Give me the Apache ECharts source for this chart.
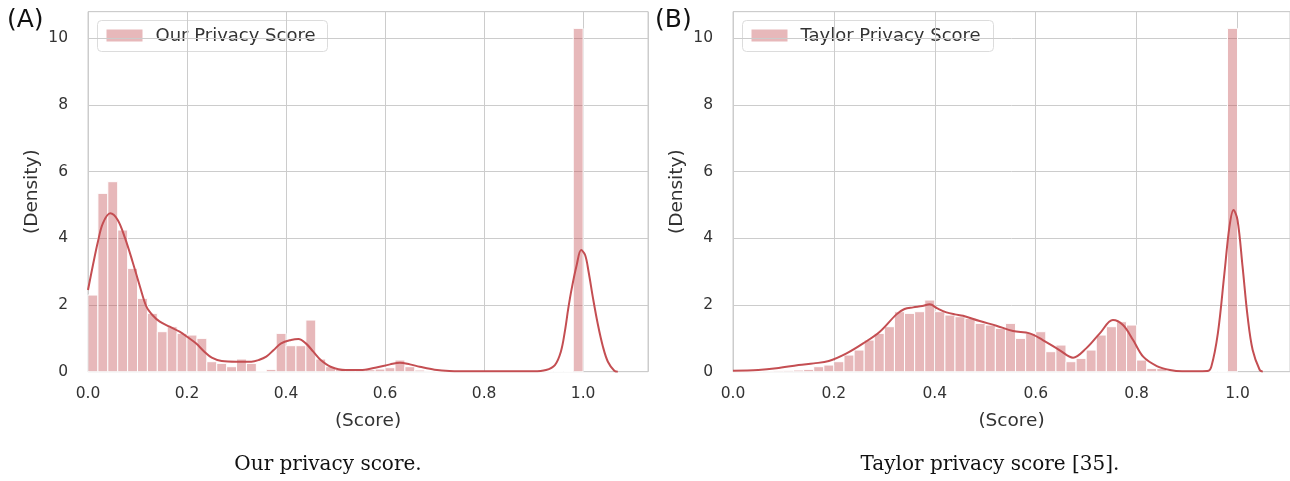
<!DOCTYPE html>
<html>
<head>
<meta charset="utf-8">
<script src="https://cdn.jsdelivr.net/npm/echarts@6/dist/echarts.min.js"></script>
<style>
html,body{margin:0;padding:0;background:#fff;}
#chart{width:1290px;height:481px;}
</style>
</head>
<body>
<div id="chart"></div>
<script>
// ---- data ----
const binWidth = 0.02;
const xTicks = [0.0, 0.2, 0.4, 0.6, 0.8, 1.0];
const yTicks = [0, 2, 4, 6, 8, 10];

// Panel A: "Our Privacy Score" histogram densities (50 bins from 0 to 1)
const ourHist = [
  2.3, 5.35, 5.7, 4.25, 3.1, 2.2, 1.75, 1.2, 1.35, 1.15,
  1.1, 1.0, 0.3, 0.25, 0.15, 0.38, 0.25, 0.02, 0.07, 1.15,
  0.78, 0.78, 1.55, 0.38, 0.15, 0.07, 0.05, 0.04, 0.06, 0.08,
  0.12, 0.35, 0.15, 0.05, 0.02, 0, 0, 0, 0, 0,
  0, 0, 0, 0, 0, 0, 0, 0, 0, 10.3
];
// Panel A KDE curve points [score, density]
const ourKde = [
  [0,2.45],[0.01,3.2],[0.02,3.9],[0.03,4.45],[0.045,4.75],[0.06,4.55],[0.075,4.0],[0.09,3.3],
  [0.105,2.55],[0.118,1.95],[0.13,1.7],[0.145,1.5],[0.165,1.35],[0.185,1.2],[0.2,1.05],
  [0.218,0.85],[0.235,0.6],[0.25,0.42],[0.27,0.32],[0.3,0.3],[0.33,0.3],[0.345,0.35],
  [0.36,0.45],[0.375,0.65],[0.39,0.85],[0.41,0.95],[0.425,0.98],[0.44,0.85],[0.455,0.6],
  [0.47,0.35],[0.49,0.15],[0.52,0.05],[0.55,0.05],[0.58,0.12],[0.61,0.22],[0.63,0.27],
  [0.65,0.22],[0.67,0.15],[0.7,0.06],[0.73,0.02],[0.78,0.01],[0.9,0.01],[0.925,0.05],
  [0.943,0.2],[0.955,0.6],[0.963,1.2],[0.97,1.9],[0.977,2.5],[0.987,3.2],[0.996,3.65],
  [1.004,3.5],[1.011,3.0],[1.02,2.2],[1.03,1.4],[1.04,0.75],[1.05,0.3],[1.063,0.03],[1.07,0]
];

// Panel B: "Taylor Privacy Score" histogram densities (50 bins from 0 to 1)
const taylorHist = [
  0.0, 0.01, 0.01, 0.02, 0.03, 0.04, 0.05, 0.07, 0.15, 0.2,
  0.3, 0.5, 0.65, 0.95, 1.15, 1.35, 1.8, 1.75, 1.8, 2.15,
  1.8, 1.7, 1.65, 1.6, 1.45, 1.4, 1.3, 1.45, 1.0, 1.15,
  1.2, 0.6, 0.8, 0.3, 0.4, 0.65, 1.1, 1.35, 1.5, 1.4,
  0.35, 0.1, 0.1, 0.03, 0, 0, 0, 0, 0, 10.3
];
// Panel B KDE curve points [score, density]
const taylorKde = [
  [0,0.03],[0.05,0.05],[0.086,0.1],[0.13,0.2],[0.16,0.25],[0.19,0.32],[0.225,0.55],
  [0.258,0.85],[0.291,1.2],[0.324,1.72],[0.34,1.88],[0.357,1.93],[0.375,1.97],[0.39,2.02],
  [0.405,1.9],[0.423,1.78],[0.44,1.72],[0.456,1.68],[0.489,1.52],[0.522,1.38],[0.555,1.22],
  [0.588,1.15],[0.614,0.95],[0.647,0.65],[0.674,0.42],[0.7,0.7],[0.727,1.15],[0.753,1.55],
  [0.773,1.4],[0.793,0.95],[0.813,0.45],[0.84,0.17],[0.866,0.05],[0.89,0.01],[0.94,0.02],
  [0.948,0.15],[0.961,1.15],[0.974,2.95],[0.984,4.35],[0.992,4.85],[1.0,4.55],[1.01,3.15],
  [1.02,1.65],[1.03,0.65],[1.044,0.05],[1.05,0]
];

const legendA = 'Our Privacy Score';
const legendB = 'Taylor Privacy Score';
const captionA = 'Our privacy score.';
const captionB = 'Taylor privacy score [35].';
const xName = '(Score)';
const yName = '(Density)';

// ---- styling ----
const RED = '#C44E52';
const BAR = 'rgba(196,78,82,0.4)';
const GRIDC = '#cccccc';
const TXT = '#333333';
const SANS = 'DejaVu Sans';

function histData(arr){ return arr.map((v,i)=>[i*binWidth, (i+1)*binWidth, v]); }

function barRender(params, api){
  const p0 = api.coord([api.value(0), api.value(2)]);
  const p1 = api.coord([api.value(1), 0]);
  return {type:'rect', shape:{x:p0[0], y:p0[1], width:p1[0]-p0[0], height:p1[1]-p0[1]},
          style:{fill:BAR, stroke:'#ffffff', lineWidth:1}};
}

function xAxisCfg(idx, max){
  return {type:'value', gridIndex:idx, min:0, max:max, interval:0.2,
    name:xName, nameLocation:'middle', nameGap:40,
    nameTextStyle:{fontFamily:SANS, fontSize:18.5, color:TXT},
    axisLine:{show:false}, axisTick:{show:false},
    axisLabel:{showMaxLabel:false, margin:14, fontFamily:SANS, fontSize:15.5, color:TXT,
      formatter:v=> xTicks.some(t=>Math.abs(t-v)<1e-6) ? v.toFixed(1) : ''},
    splitLine:{show:true, lineStyle:{color:GRIDC, width:1}}};
}
function yAxisCfg(idx){
  return {type:'value', gridIndex:idx, min:0, max:10.8, interval:2,
    name:yName, nameLocation:'middle', nameGap:46, nameRotate:90,
    nameTextStyle:{fontFamily:SANS, fontSize:18.5, color:TXT},
    axisLine:{show:false}, axisTick:{show:false},
    axisLabel:{showMaxLabel:false, margin:20, fontFamily:SANS, fontSize:15.5, color:TXT,
      formatter:v=> yTicks.includes(v) ? String(v) : ''},
    splitLine:{show:true, lineStyle:{color:GRIDC, width:1}}};
}

function legendGroup(x, y, w, label){
  return {type:'group', left:x, top:y, z:100, children:[
    {type:'rect', shape:{x:0, y:0, width:w, height:31, r:4},
     style:{fill:'rgba(255,255,255,0.8)', stroke:'#dcdcdc', lineWidth:1}},
    {type:'rect', shape:{x:9, y:9, width:36, height:12}, style:{fill:BAR}},
    {type:'text', x:58, y:15.5, style:{text:label, fontFamily:SANS, fontSize:18, fill:TXT, verticalAlign:'middle'}}
  ]};
}

const chart = echarts.init(document.getElementById('chart'), null, {renderer:'canvas'});
chart.setOption({
  animation:false,
  backgroundColor:'#ffffff',
  grid:[
    {left:88, top:11.7, width:560, height:360, show:true, borderColor:GRIDC, borderWidth:1, backgroundColor:'transparent'},
    {left:733, top:11.7, width:557, height:360, show:true, borderColor:GRIDC, borderWidth:1, backgroundColor:'transparent'}
  ],
  xAxis:[xAxisCfg(0, 1.131), xAxisCfg(1, 1.104)],
  yAxis:[yAxisCfg(0), yAxisCfg(1)],
  series:[
    {type:'custom', name:legendA, xAxisIndex:0, yAxisIndex:0, renderItem:barRender,
     encode:{x:[0,1], y:2}, data:histData(ourHist), z:2},
    {type:'line', xAxisIndex:0, yAxisIndex:0, data:ourKde, smooth:0.35, showSymbol:false,
     lineStyle:{color:RED, width:2}, z:3},
    {type:'custom', name:legendB, xAxisIndex:1, yAxisIndex:1, renderItem:barRender,
     encode:{x:[0,1], y:2}, data:histData(taylorHist), z:2},
    {type:'line', xAxisIndex:1, yAxisIndex:1, data:taylorKde, smooth:0.35, showSymbol:false,
     lineStyle:{color:RED, width:2}, z:3}
  ],
  graphic:[
    legendGroup(97, 20, 230, legendA),
    legendGroup(742, 20, 251, legendB),
    {type:'text', left:7, top:8, style:{text:'(A)', fontFamily:SANS, fontSize:25, fill:'#111'}},
    {type:'text', left:655, top:8, style:{text:'(B)', fontFamily:SANS, fontSize:25, fill:'#111'}},
    {type:'text', x:328, y:465, style:{text:captionA, fontFamily:'DejaVu Serif', fontSize:20, fill:'#111', align:'center', verticalAlign:'middle'}},
    {type:'text', x:990, y:465, style:{text:captionB, fontFamily:'DejaVu Serif', fontSize:20, fill:'#111', align:'center', verticalAlign:'middle'}}
  ]
});
</script>
</body>
</html>
